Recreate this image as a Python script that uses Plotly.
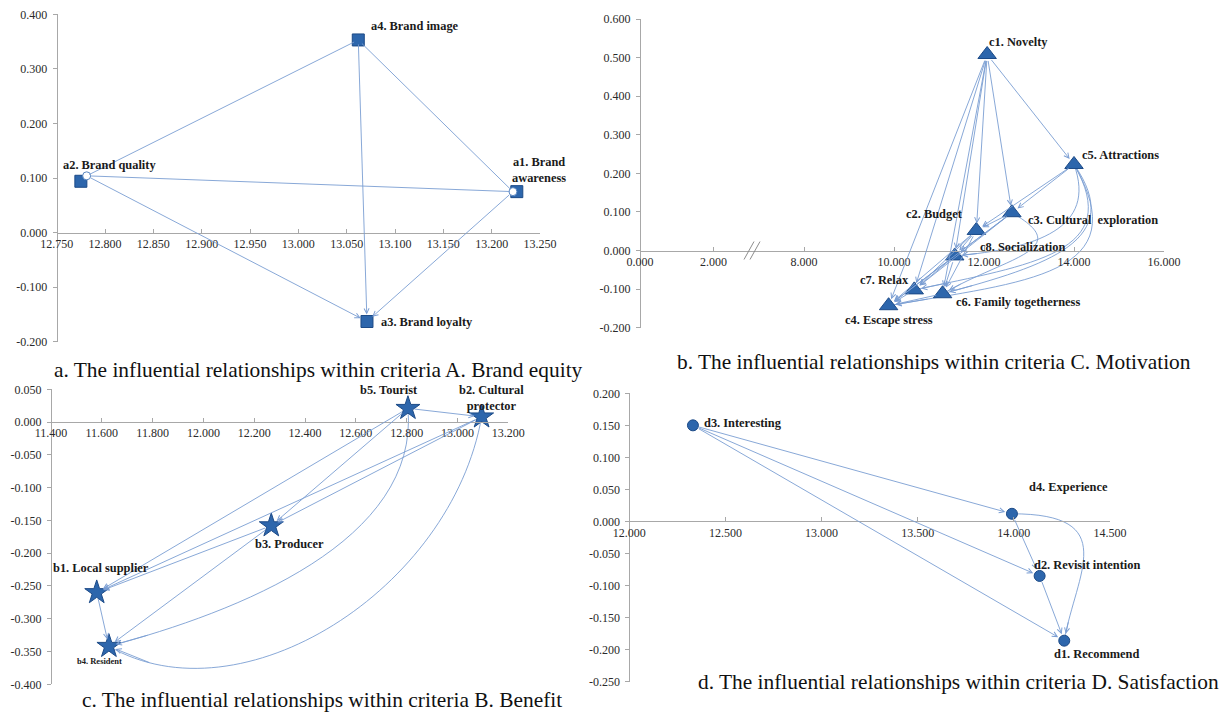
import math
import plotly.graph_objects as go

W, H = 1228, 714

# ---------------- data ----------------
# a. criteria A. Brand equity
a_codes = ["a1", "a2", "a3", "a4"]
a_labels = ["a1. Brand<br>awareness", "a2. Brand quality", "a3. Brand loyalty", "a4. Brand image"]
a_x = [13.226, 12.775, 13.071, 13.062]
a_y = [0.075, 0.094, -0.163, 0.353]
a_join_x = [13.222, 12.781, 13.071, 13.062]
a_join_y = [0.075, 0.104, -0.163, 0.353]
a_edges = [("a4", "a2"), ("a4", "a1"), ("a2", "a1"), ("a4", "a3"), ("a2", "a3"), ("a1", "a3")]
a_xticks = [12.75, 12.80, 12.85, 12.90, 12.95, 13.00, 13.05, 13.10, 13.15, 13.20, 13.25]
a_yticks = [-0.2, -0.1, 0.0, 0.1, 0.2, 0.3, 0.4]

# b. criteria C. Motivation
c_codes = ["c1", "c2", "c3", "c4", "c5", "c6", "c7", "c8"]
c_labels = ["c1. Novelty", "c2. Budget", "c3. Cultural  exploration", "c4. Escape stress",
            "c5. Attractions", "c6. Family togetherness", "c7. Relax", "c8. Socialization"]
c_x = [12.07, 11.83, 12.62, 9.88, 14.00, 11.08, 10.45, 11.35]
c_y = [0.508, 0.052, 0.098, -0.143, 0.223, -0.112, -0.102, -0.014]
c_edges = [("c1", "c5"), ("c1", "c3"), ("c1", "c2"), ("c1", "c8"), ("c1", "c6"), ("c1", "c7"), ("c1", "c4"),
           ("c5", "c3"), ("c5", "c2"),
           ("c3", "c2"), ("c3", "c8"), ("c3", "c7"), ("c3", "c4"),
           ("c2", "c8"), ("c2", "c7"), ("c2", "c4"), ("c2", "c6"),
           ("c8", "c7"), ("c8", "c4"), ("c8", "c6"),
           ("c6", "c4"), ("c7", "c4")]
c_curved = [("c5", "c8"), ("c5", "c6"), ("c5", "c7"), ("c5", "c4"), ("c3", "c6")]
c_xticks_left = [0.0, 2.0]
c_xticks = [8.0, 10.0, 12.0, 14.0, 16.0]
c_yticks = [-0.2, -0.1, 0.0, 0.1, 0.2, 0.3, 0.4, 0.5, 0.6]

# c. criteria B. Benefit
b_codes = ["b1", "b2", "b3", "b4", "b5"]
b_labels = ["b1. Local supplier", "b2. Cultural<br>protector", "b3. Producer", "b4. Resident", "b5. Tourist"]
b_x = [11.580, 13.095, 12.267, 11.628, 12.805]
b_y = [-0.260, 0.008, -0.158, -0.342, 0.021]
b_edges = [("b5", "b2"), ("b5", "b1"), ("b5", "b3"), ("b2", "b3"), ("b2", "b1"),
           ("b3", "b1"), ("b3", "b4"), ("b1", "b4")]
b_curved = [("b5", "b4"), ("b2", "b4")]
b_xticks = [11.4, 11.6, 11.8, 12.0, 12.2, 12.4, 12.6, 12.8, 13.0, 13.2]
b_yticks = [-0.40, -0.35, -0.30, -0.25, -0.20, -0.15, -0.10, -0.05, 0.0, 0.05]

# d. criteria D. Satisfaction
d_codes = ["d1", "d2", "d3", "d4"]
d_labels = ["d1. Recommend", "d2. Revisit intention", "d3. Interesting", "d4. Experience"]
d_x = [14.262, 14.134, 12.331, 13.990]
d_y = [-0.186, -0.085, 0.150, 0.012]
d_edges = [("d3", "d4"), ("d3", "d2"), ("d3", "d1"), ("d4", "d2"), ("d2", "d1")]
d_curved = [("d4", "d1")]
d_xticks = [12.0, 12.5, 13.0, 13.5, 14.0, 14.5]
d_yticks = [-0.25, -0.20, -0.15, -0.10, -0.05, 0.0, 0.05, 0.10, 0.15, 0.20]

captions = ["a. The influential relationships within criteria A. Brand equity",
            "b. The influential relationships within criteria C. Motivation",
            "c. The influential relationships within criteria B. Benefit",
            "d. The influential relationships within criteria D. Satisfaction"]

# ---------------- layout / style ----------------
EDGE = "#7b9ed3"
MFILL = "#2d66ac"
MLINE = "#1c4a87"
AXC = "#a8a8a8"
TICKC = "#2a2a2a"
SERIF = "Liberation Serif, Times New Roman, serif"

BREAK_PX = 753.0
PANEL = {
    "a": dict(xpx=(56.7, 540.0), ypx=(14.3, 341.7), xr=(a_xticks[0], a_xticks[-1]),
              yr=(a_yticks[0], a_yticks[-1]), xa="x", ya="y", yfree=56.7),
    "c": dict(xpx=(BREAK_PX, 1164.0), ypx=(19.0, 327.7),
              xr=(c_xticks[-1] - (1164.0 - BREAK_PX) / 45.0, c_xticks[-1]),
              yr=(c_yticks[0], c_yticks[-1]), xa="x2", ya="y2", yfree=640.0),
    "b": dict(xpx=(51.0, 508.3), ypx=(389.3, 684.3), xr=(b_xticks[0], b_xticks[-1]),
              yr=(b_yticks[0], b_yticks[-1]), xa="x3", ya="y3", yfree=51.0),
    "d": dict(xpx=(629.3, 1110.0), ypx=(393.3, 681.7), xr=(d_xticks[0], d_xticks[-1]),
              yr=(d_yticks[0], d_yticks[-1]), xa="x4", ya="y4", yfree=629.3),
}
LEFT_SEG = dict(xpx=(640.0, BREAK_PX), xr=(0.0, (BREAK_PX - 640.0) / 36.7))

LABEL_POS = {
    "a1": ("center", 22, 22), "a2": ("center", 29, 16), "a3": ("left", 12, 0), "a4": ("left", 11, 14),
    "c1": ("left", 0, 13), "c2": ("right", -11, 16), "c3": ("left", 14, -7), "c4": ("center", 0, -14),
    "c5": ("left", 6, 9), "c6": ("left", 11, -8), "c7": ("right", -3, 10), "c8": ("left", 23, 9),
    "b1": ("center", 4, 25), "b2": ("center", 10, 19), "b3": ("center", 18, -18),
    "b4": ("center", -9, -15), "b5": ("center", -19, 18),
    "d1": ("left", -12, -13), "d2": ("left", -8, 11), "d3": ("left", 9, 2), "d4": ("left", 15, 27),
}
# curve style: start angle, start length factor, end angle, end length factor (screen, y up)
CURVE_STYLE = {
    ("c5", "c8"): (290, 0.45, 5, 0.55),
    ("c5", "c6"): (305, 0.5, 15, 0.6),
    ("c5", "c7"): (300, 0.5, 12, 0.6),
    ("c5", "c4"): (300, 0.55, 10, 0.6),
    ("c3", "c6"): (330, 0.7, 30, 0.7),
    ("b5", "b4"): (275, 0.35, 15, 0.35),
    ("b2", "b4"): (260, 0.4, 330, 0.35),
    ("d4", "d1"): (0, 0.8, 80, 0.5),
}


def fx(px):
    return px / W


def fy(py):
    return 1 - py / H


def scale(p):
    P = PANEL[p]
    sx = (P["xpx"][1] - P["xpx"][0]) / (P["xr"][1] - P["xr"][0])
    sy = (P["ypx"][1] - P["ypx"][0]) / (P["yr"][1] - P["yr"][0])
    return sx, sy


def zero_pos(P):
    (y0, y1), (r0, r1) = P["ypx"], P["yr"]
    py = y1 - (0 - r0) / (r1 - r0) * (y1 - y0)
    return fy(py)


fig = go.Figure()
annotations = []
shapes = []

node_sets = {
    "a": (a_codes, a_labels, a_x, a_y, "square", 12),
    "c": (c_codes, c_labels, c_x, c_y, "triangle-up", 16),
    "b": (b_codes, b_labels, b_x, b_y, "star", 18),
    "d": (d_codes, d_labels, d_x, d_y, "circle", 11),
}
edge_sets = {"a": (a_edges, []), "c": (c_edges, c_curved), "b": (b_edges, b_curved), "d": (d_edges, d_curved)}


def arrow(p, xs, ys, xt, yt, head=5, stand=7, sstand=5):
    P = PANEL[p]
    annotations.append(dict(x=xt, y=yt, ax=xs, ay=ys, xref=P["xa"], yref=P["ya"],
                            axref=P["xa"], ayref=P["ya"], text="", showarrow=True,
                            arrowhead=head, arrowsize=1.1, arrowwidth=0.9, arrowcolor=EDGE,
                            standoff=stand, startstandoff=sstand))


def curve(p, s, t, style):
    a1, k1, a2, k2 = style
    sx, sy = scale(p)
    u0, v0 = s[0] * sx, s[1] * sy
    u3, v3 = t[0] * sx, t[1] * sy
    L = math.hypot(u3 - u0, v3 - v0)
    u1 = u0 + k1 * L * math.cos(math.radians(a1))
    v1 = v0 + k1 * L * math.sin(math.radians(a1))
    u2 = u3 + k2 * L * math.cos(math.radians(a2))
    v2 = v3 + k2 * L * math.sin(math.radians(a2))
    pts = [(u0 / sx, v0 / sy), (u1 / sx, v1 / sy), (u2 / sx, v2 / sy), (u3 / sx, v3 / sy)]

    def bez(tt):
        m = 1 - tt
        c = [m ** 3, 3 * m * m * tt, 3 * m * tt * tt, tt ** 3]
        return (sum(c[i] * pts[i][0] for i in range(4)), sum(c[i] * pts[i][1] for i in range(4)))

    P = PANEL[p]
    path = "M {:.5f},{:.5f} C {:.5f},{:.5f} {:.5f},{:.5f} {:.5f},{:.5f}".format(
        pts[0][0], pts[0][1], pts[1][0], pts[1][1], pts[2][0], pts[2][1], pts[3][0], pts[3][1])
    shapes.append(dict(type="path", path=path, xref=P["xa"], yref=P["ya"],
                       line=dict(color=EDGE, width=0.9), layer="below"))
    bx, by = bez(0.9)
    arrow(p, bx, by, t[0], t[1], sstand=0)


for p, (codes, labels, xs, ys, sym, size) in node_sets.items():
    P = PANEL[p]
    if p == "a":
        pos = {c: (a_join_x[i], a_join_y[i]) for i, c in enumerate(codes)}
    else:
        pos = {c: (xs[i], ys[i]) for i, c in enumerate(codes)}
    straight, curved = edge_sets[p]
    for s, t in straight:
        if p == "a" and t in ("a1", "a2"):
            arrow(p, pos[s][0], pos[s][1], pos[t][0], pos[t][1], head=0, stand=3, sstand=3)
        elif p == "a":
            arrow(p, pos[s][0], pos[s][1], pos[t][0], pos[t][1], stand=7, sstand=3)
        else:
            arrow(p, pos[s][0], pos[s][1], pos[t][0], pos[t][1])
    for s, t in curved:
        curve(p, pos[s], pos[t], CURVE_STYLE[(s, t)])

    fig.add_trace(go.Scatter(x=xs, y=ys, mode="markers", xaxis=P["xa"], yaxis=P["ya"],
                             marker=dict(symbol=sym, size=size, color=MFILL,
                                         line=dict(color=MLINE, width=1)),
                             showlegend=False, hoverinfo="skip"))
    for i, c in enumerate(codes):
        xan, xsh, ysh = LABEL_POS[c]
        fsize = 8.5 if c == "b4" else 12.4
        annotations.append(dict(x=xs[i], y=ys[i], xref=P["xa"], yref=P["ya"], text="<b>%s</b>" % labels[i],
                                showarrow=False, xanchor=xan, yanchor="middle", xshift=xsh, yshift=ysh,
                                align="center",
                                font=dict(family=SERIF, size=fsize, color="#1a1a1a")))

# rings where the arrows of panel a meet
fig.add_trace(go.Scatter(x=a_join_x[:2], y=a_join_y[:2], mode="markers", xaxis="x", yaxis="y",
                         marker=dict(symbol="circle", size=8, color="white",
                                     line=dict(color="#5a86c0", width=1)),
                         showlegend=False, hoverinfo="skip"))
# dummy trace for left segment of broken axis
fig.add_trace(go.Scatter(x=[None], y=[None], xaxis="x5", yaxis="y2", showlegend=False, hoverinfo="skip"))

tickfont = dict(family=SERIF, size=12, color=TICKC)
eps = 1e-9


def fmt(ticks):
    return ["%.3f" % v for v in ticks]


def xax(P, xpx, xr, ticks):
    return dict(domain=[fx(xpx[0]), fx(xpx[1])], range=[xr[0] - eps, xr[1] + eps], anchor="free",
                position=zero_pos(P), tickvals=ticks, ticktext=fmt(ticks), showline=True,
                linecolor=AXC, linewidth=1, ticks="inside", ticklen=4, tickcolor=AXC,
                showgrid=False, zeroline=False, tickfont=tickfont, fixedrange=True, automargin=False)


def yax(P, ticks):
    return dict(domain=[fy(P["ypx"][1]), fy(P["ypx"][0])], range=[P["yr"][0] - eps, P["yr"][1] + eps],
                anchor="free", position=fx(P["yfree"]), tickvals=ticks, ticktext=fmt(ticks),
                showline=True, linecolor=AXC, linewidth=1, ticks="outside", ticklen=4,
                tickcolor=AXC, showgrid=False, zeroline=False, tickfont=tickfont,
                ticklabelstandoff=3, fixedrange=True, automargin=False)


layout = dict(width=W, height=H, margin=dict(l=0, r=0, t=0, b=0, autoexpand=False), paper_bgcolor="white",
              plot_bgcolor="rgba(0,0,0,0)", showlegend=False)
Pa, Pc, Pb, Pd = PANEL["a"], PANEL["c"], PANEL["b"], PANEL["d"]
layout["xaxis"] = xax(Pa, Pa["xpx"], Pa["xr"], a_xticks)
layout["yaxis"] = yax(Pa, a_yticks)
layout["xaxis2"] = xax(Pc, Pc["xpx"], Pc["xr"], c_xticks)
layout["yaxis2"] = yax(Pc, c_yticks)
layout["xaxis5"] = xax(Pc, LEFT_SEG["xpx"], LEFT_SEG["xr"], c_xticks_left)
layout["xaxis3"] = xax(Pb, Pb["xpx"], Pb["xr"], b_xticks)
layout["yaxis3"] = yax(Pb, b_yticks)
layout["xaxis4"] = xax(Pd, Pd["xpx"], Pd["xr"], d_xticks)
layout["yaxis4"] = yax(Pd, d_yticks)

# axis break marks on panel b
zy_px = (1 - zero_pos(Pc)) * H
for dx in (-4.0, 2.0):
    shapes.append(dict(type="line", xref="paper", yref="paper",
                       x0=fx(BREAK_PX + dx - 5), y0=fy(zy_px + 9), x1=fx(BREAK_PX + dx + 5), y1=fy(zy_px - 9),
                       line=dict(color="#8c8c8c", width=1)))

# captions
cap_pos = [(318, 370), (934, 362), (322, 700), (958, 682)]
for txt, (cx, cy) in zip(captions, cap_pos):
    annotations.append(dict(x=fx(cx), y=fy(cy), xref="paper", yref="paper", text=txt, showarrow=False,
                            xanchor="center", yanchor="middle",
                            font=dict(family=SERIF, size=21.4, color="#111111")))

layout["annotations"] = annotations
layout["shapes"] = shapes
fig.update_layout(**layout)
fig.write_html("out.html", config={"displayModeBar": False},
               post_script="document.body.style.margin='0';document.body.style.padding='0';"
                           "document.body.style.overflow='hidden';")
